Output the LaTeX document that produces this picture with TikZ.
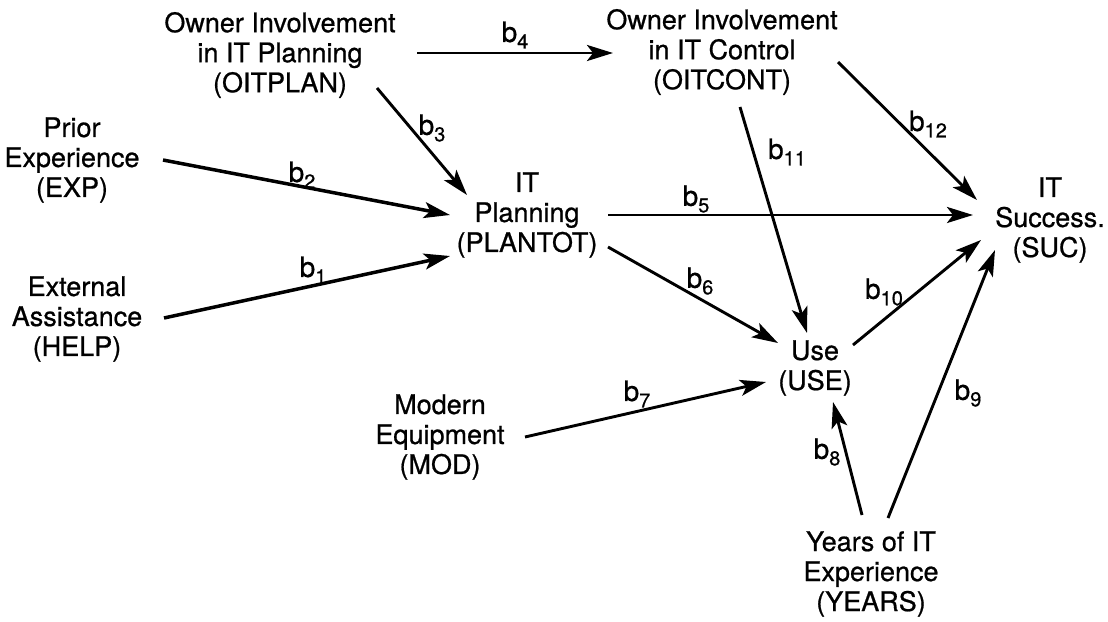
\documentclass[tikz,border=0pt]{standalone}
\usepackage{fontspec}
\setmainfont[FakeBold=0.7]{TeX Gyre Heros}
\usetikzlibrary{arrows.meta}

% path coefficient label: b with a lowered index
\newcommand{\coef}[1]{b\raisebox{-6.5pt}{\fontsize{20}{20}\selectfont #1}}

\begin{document}
\begin{tikzpicture}[x=1pt,y=-1pt,
  var/.style={align=center,inner sep=0pt,font=\fontsize{27}{30}\selectfont},
  coeflab/.style={inner sep=0pt,font=\fontsize{28}{30}\selectfont},
  path arrow/.style={line width=2.9pt,-{Stealth[length=26pt,width=16pt,inset=6pt]}},
  heavy/.style={line width=3.5pt}]

\useasboundingbox[fill=white] (0,0) rectangle (1108,621);

% variables
\node[var] (oitplan) at (280,55)  {Owner Involvement\\in IT Planning\\(OITPLAN)};
\node[var] (oitcont) at (722,52)  {Owner Involvement\\in IT Control\\(OITCONT)};
\node[var] (exp)     at (72,160)  {Prior\\Experience\\(EXP)};
\node[var] (help)    at (77,319)  {External\\Assistance\\(HELP)};
\node[var] (plan)    at (527,215) {IT\\Planning\\(PLANTOT)};
\node[var] (suc)     at (1050,220){IT\\Success.\\(SUC)};
\node[var] (use)     at (815,368) {Use\\(USE)};
\node[var] (mod)     at (440,437) {Modern\\Equipment\\(MOD)};
\node[var] (years)   at (871,574) {Years of IT\\Experience\\(YEARS)};

% paths
\draw[path arrow] ([shift={(137,-2)}]oitplan.center) -- ([shift={(-109,1)}]oitcont.center);
\draw[path arrow] ([shift={(97,33)}]oitplan.center) -- ([shift={(-60,-20)}]plan.center);
\draw[path arrow,heavy] ([shift={(91,0)}]exp.center) -- ([shift={(-77,0)}]plan.center);
\draw[path arrow,heavy] ([shift={(87,-1)}]help.center) -- ([shift={(-77,41)}]plan.center);
\draw[path arrow] ([shift={(81,0)}]plan.center) -- ([shift={(-77,-5)}]suc.center);
\draw[path arrow] ([shift={(81,32)}]plan.center) -- ([shift={(-37,-25)}]use.center);
\draw[path arrow] ([shift={(18,55)}]oitcont.center) -- ([shift={(-8,-35)}]use.center);
\draw[path arrow] ([shift={(116,10)}]oitcont.center) -- ([shift={(-73,-20)}]suc.center);
\draw[path arrow] ([shift={(38,-23)}]use.center) -- ([shift={(-69,20)}]suc.center);
\draw[path arrow] ([shift={(17,-56)}]years.center) -- ([shift={(-55,30)}]suc.center);
\draw[path arrow] ([shift={(-9,-59)}]years.center) -- ([shift={(18,34)}]use.center);
\draw[path arrow] ([shift={(85,0)}]mod.center) -- ([shift={(-49,14)}]use.center);

% coefficient labels
\node[coeflab] (c4)  at (515,35)  {\coef{4}};
\node[coeflab] (c3)  at (432,128) {\coef{3}};
\node[coeflab] (c2)  at (302,175) {\coef{2}};
\node[coeflab] (c1)  at (313,270) {\coef{1}};
\node[coeflab] (c5)  at (696,199) {\coef{5}};
\node[coeflab] (c6)  at (700,281) {\coef{6}};
\node[coeflab] (c11) at (787,152) {\coef{11}};
\node[coeflab] (c12) at (928,124) {\coef{12}};
\node[coeflab] (c10) at (884,292) {\coef{10}};
\node[coeflab] (c9)  at (968,393) {\coef{9}};
\node[coeflab] (c8)  at (827,452) {\coef{8}};
\node[coeflab] (c7)  at (637,394) {\coef{7}};

\end{tikzpicture}
\end{document}
